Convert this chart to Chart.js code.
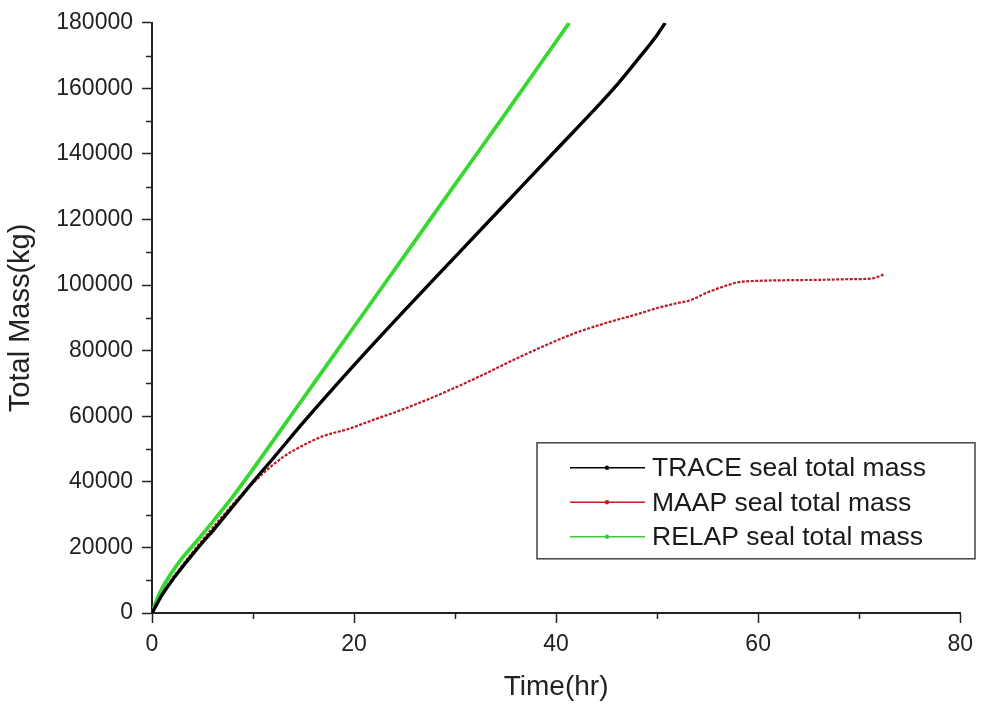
<!DOCTYPE html>
<html>
<head>
<meta charset="utf-8">
<script src="https://cdn.jsdelivr.net/npm/chart.js@4/dist/chart.umd.min.js"></script>
<style>
html,body{margin:0;padding:0;background:#fff;}
#wrap{position:relative;width:981px;height:706px;}
</style>
</head>
<body>
<div id="wrap"><canvas id="c" width="981" height="706"></canvas></div>
<script>
// ---- data ----
const traceX = [0, 1, 2, 3, 4, 5, 6, 8, 10, 12, 15, 20, 25, 30, 35, 40, 44, 46, 48, 50, 50.8];
const traceY = [0, 5500, 10000, 14000, 17800, 21500, 25000, 32500, 40000, 47200, 58200, 75600, 92300, 108600, 124900, 141200, 154200, 161000, 168500, 176300, 180000];

const maapX = [0, 1, 2, 3, 4, 5, 6, 7, 8, 9, 10, 11, 13, 15, 17, 19.5, 22, 25, 29.4, 33, 36, 39.3, 42, 45, 48.2, 50, 52, 53.2, 55, 57, 58.1, 60, 63, 66, 69, 71.2, 72.4];
const maapY = [0, 5800, 10500, 14500, 18500, 22300, 26000, 29600, 33200, 36500, 39600, 42600, 47600, 51200, 54000, 56200, 59000, 62300, 67900, 73000, 77500, 82100, 85500, 88500, 91300, 93000, 94500, 95300, 97800, 100000, 100900, 101300, 101500, 101600, 101800, 102000, 103200];

const relapX = [0, 0.5, 1, 2, 3, 4, 5, 6, 8, 10, 13, 16, 20, 25, 30, 35, 41.3];
const relapY = [0, 4200, 7500, 12500, 16800, 20400, 24000, 27800, 35500, 43900, 56900, 69950, 87300, 109000, 130700, 152400, 180000];

const seriesNames = ['TRACE seal total mass', 'MAAP seal total mass', 'RELAP seal total mass'];
const xTicks = [0, 20, 40, 60, 80];
const yTicks = [0, 20000, 40000, 60000, 80000, 100000, 120000, 140000, 160000, 180000];
const xTitle = 'Time(hr)';
const yTitle = 'Total Mass(kg)';

const toPts = (xs, ys) => xs.map((x, i) => ({x: x, y: ys[i]}));

const FONT = "'Liberation Sans', Arial, sans-serif";
const AXIS = '#222';

// minor ticks + legend box plugin
const extras = {
  id: 'extras',
  afterDraw(chart) {
    const ctx = chart.ctx;
    const xs = chart.scales.x, ys = chart.scales.y;
    const ca = chart.chartArea;
    ctx.save();
    ctx.strokeStyle = AXIS;
    ctx.lineWidth = 1.5;
    for (let i = 0; i < yTicks.length - 1; i++) {
      const v = (yTicks[i] + yTicks[i + 1]) / 2;
      const p = Math.round(ys.getPixelForValue(v)) + 0.5;
      ctx.beginPath(); ctx.moveTo(ca.left - 6, p); ctx.lineTo(ca.left, p); ctx.stroke();
    }
    for (let i = 0; i < xTicks.length - 1; i++) {
      const v = (xTicks[i] + xTicks[i + 1]) / 2;
      const p = Math.round(xs.getPixelForValue(v)) + 0.5;
      ctx.beginPath(); ctx.moveTo(p, ca.bottom); ctx.lineTo(p, ca.bottom + 6); ctx.stroke();
    }
    // legend box
    const bx = ca.left + 385, by = ca.top + 420, bw = 438, bh = 116;
    ctx.fillStyle = '#fff';
    ctx.fillRect(bx, by, bw, bh);
    ctx.strokeStyle = '#444';
    ctx.lineWidth = 1.5;
    ctx.strokeRect(bx, by, bw, bh);
    ctx.font = '26.5px ' + FONT;
    ctx.textBaseline = 'middle';
    ctx.textAlign = 'left';
    chart.data.datasets.forEach((ds, i) => {
      const y = by + 25 + i * 34.5;
      ctx.strokeStyle = ds.legendColor;
      ctx.lineWidth = 1.5;
      ctx.beginPath(); ctx.moveTo(bx + 33, y); ctx.lineTo(bx + 108, y); ctx.stroke();
      ctx.fillStyle = ds.legendColor;
      ctx.beginPath(); ctx.arc(bx + 70, y, 2.2, 0, Math.PI * 2); ctx.fill();
      ctx.fillStyle = '#1a1a1a';
      ctx.fillText(ds.label, bx + 115, y + 1);
    });
    ctx.restore();
  }
};

new Chart(document.getElementById('c'), {
  type: 'line',
  data: {
    datasets: [
      {label: seriesNames[0], data: toPts(traceX, traceY), borderColor: '#000', legendColor: '#000', borderWidth: 3.4, pointRadius: 0, cubicInterpolationMode: 'monotone'},
      {label: seriesNames[1], data: toPts(maapX, maapY), borderColor: '#b81c26', legendColor: '#cc1a22', borderWidth: 2.2, pointRadius: 0, cubicInterpolationMode: 'monotone', borderDash: [3, 1.5]},
      {label: seriesNames[2], data: toPts(relapX, relapY), borderColor: '#38d830', legendColor: '#3ec83e', borderWidth: 3.8, pointRadius: 0, cubicInterpolationMode: 'monotone'}
    ]
  },
  options: {
    responsive: false,
    animation: false,
    events: [],
    layout: {padding: {top: 22, right: 19, left: 0, bottom: 0}},
    plugins: {legend: {display: false}, tooltip: {enabled: false}},
    scales: {
      x: {
        type: 'linear', min: 0, max: 80,
        afterFit(s) { s.height = 93; },
        afterBuildTicks(s) { s.ticks = xTicks.map(v => ({value: v})); },
        ticks: {color: '#222', font: {family: FONT, size: 23}, padding: 8, maxRotation: 0, callback: v => String(v)},
        grid: {drawOnChartArea: false, drawTicks: true, tickLength: 10, tickColor: AXIS, tickWidth: 1.5},
        border: {display: true, color: AXIS, width: 2},
        title: {display: true, text: xTitle, color: '#222', font: {family: FONT, size: 28}, padding: {top: 0, bottom: 2}}
      },
      y: {
        type: 'linear', min: 0, max: 180000,
        afterFit(s) { s.width = 152; },
        afterBuildTicks(s) { s.ticks = yTicks.map(v => ({value: v})); },
        ticks: {color: '#222', font: {family: FONT, size: 23}, padding: 9, callback: v => String(v)},
        grid: {drawOnChartArea: false, drawTicks: true, tickLength: 10, tickColor: AXIS, tickWidth: 1.5},
        border: {display: true, color: AXIS, width: 2},
        title: {display: true, text: yTitle, color: '#222', font: {family: FONT, size: 29}, padding: {top: 4, bottom: 0}}
      }
    }
  },
  plugins: [extras]
});
</script>
</body>
</html>
